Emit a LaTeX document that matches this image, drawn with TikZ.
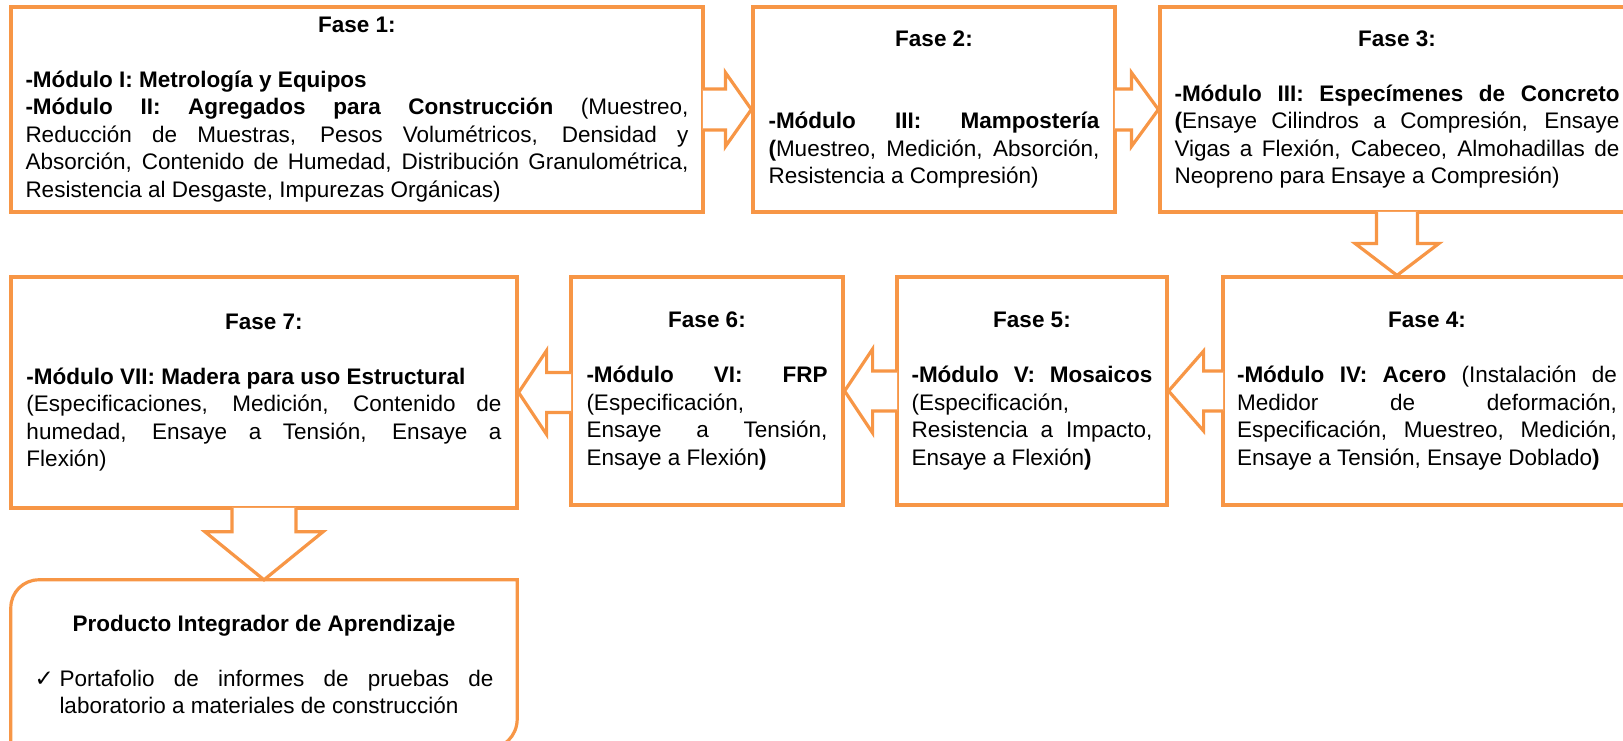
\documentclass[tikz,border=0pt]{standalone}
\usepackage{fontspec}
\setmainfont{Liberation Sans}
\newfontfamily\dejavu{DejaVu Sans}
\usetikzlibrary{calc}
\definecolor{orng}{RGB}{247,150,70}
\tikzset{
  phase/.style={draw=orng, line width=3.2pt, inner sep=0pt, align=left,
    font=\fontsize{22.5pt}{27.5pt}\selectfont, text=black},
  plain/.style={inner sep=0pt, align=left, font=\fontsize{22.5pt}{27.5pt}\selectfont, text=black},
  arrowline/.style={draw=orng, line width=3.2pt, line join=miter},
  outline/.style={draw=orng, line width=3.2pt}
}
\newcommand\JL[2]{\makebox[#1][s]{#2}}
\newcommand\TL[2]{\makebox[#1][c]{\bfseries #2}}
\newcommand\LL[2]{\makebox[#1][l]{#2}}
% right arrow: source, target, shaft half, head half, head length
\newcommand\ArrR[5]{%
  \coordinate (S) at (#1.east |- #2.west);
  \coordinate (T) at (#2.west);
  \fill[white] ($(S)+(-1.8,-#3)$) -- ($(T)+(-#5,-#3)$) -- ($(T)+(-#5,-#4)$) -- (T)
     -- ($(T)+(-#5,#4)$) -- ($(T)+(-#5,#3)$) -- ($(S)+(-1.8,#3)$) -- cycle;
  \draw[arrowline] ($(S)+(-1.6,-#3)$) -- ($(T)+(-#5,-#3)$) -- ($(T)+(-#5,-#4)$) -- (T)
     -- ($(T)+(-#5,#4)$) -- ($(T)+(-#5,#3)$) -- ($(S)+(-1.6,#3)$);
}
\newcommand\ArrL[5]{%
  \coordinate (S) at (#1.west |- #2.east);
  \coordinate (T) at (#2.east);
  \fill[white] ($(S)+(1.8,-#3)$) -- ($(T)+(#5,-#3)$) -- ($(T)+(#5,-#4)$) -- (T)
     -- ($(T)+(#5,#4)$) -- ($(T)+(#5,#3)$) -- ($(S)+(1.8,#3)$) -- cycle;
  \draw[arrowline] ($(S)+(1.6,-#3)$) -- ($(T)+(#5,-#3)$) -- ($(T)+(#5,-#4)$) -- (T)
     -- ($(T)+(#5,#4)$) -- ($(T)+(#5,#3)$) -- ($(S)+(1.6,#3)$);
}
\newcommand\ArrD[5]{%
  \coordinate (S) at (#1.south);
  \coordinate (T) at (#1.south |- #2.north);
  \fill[white] ($(S)+(-#3,-1.8)$) -- ($(T)+(-#3,-#5)$) -- ($(T)+(-#4,-#5)$) -- (T)
     -- ($(T)+(#4,-#5)$) -- ($(T)+(#3,-#5)$) -- ($(S)+(#3,-1.8)$) -- cycle;
  \draw[arrowline] ($(S)+(-#3,-1.6)$) -- ($(T)+(-#3,-#5)$) -- ($(T)+(-#4,-#5)$) -- (T)
     -- ($(T)+(#4,-#5)$) -- ($(T)+(#3,-#5)$) -- ($(S)+(#3,-1.6)$);
}
\begin{document}
\begin{tikzpicture}[x=1pt, y=-1pt]
\useasboundingbox (0,0) rectangle (1623,741);
\clip (0,0) rectangle (1623,741);

\node[phase, minimum width=692pt, minimum height=205pt] (f1) at (357,109.5) {%
\TL{663pt}{Fase 1:}\\[27.5pt]
\LL{663pt}{\bfseries -Módulo I: Metrología y Equipos}\\
\JL{663pt}{\textbf{-Módulo II: Agregados para Construcción} (Muestreo,}\\
\JL{663pt}{Reducción de Muestras, Pesos Volumétricos, Densidad y}\\
\JL{663pt}{Absorción, Contenido de Humedad, Distribución Granulométrica,}\\
\LL{663pt}{Resistencia al Desgaste, Impurezas Orgánicas)}};

\node[phase, minimum width=362pt, minimum height=205pt] (f2) at (934,109.5) {%
\TL{331pt}{Fase 2:}\\[55pt]
\JL{331pt}{\bfseries -Módulo III: Mampostería}\\
\JL{331pt}{\textbf{(}Muestreo, Medición, Absorción,}\\
\LL{331pt}{Resistencia a Compresión)}};

\node[phase, minimum width=474pt, minimum height=205pt] (f3) at (1397,109.5) {%
\TL{445pt}{Fase 3:}\\[27.5pt]
\JL{445pt}{\bfseries -Módulo III: Especímenes de Concreto}\\
\JL{445pt}{\textbf{(}Ensaye Cilindros a Compresión, Ensaye}\\
\JL{445pt}{Vigas a Flexión, Cabeceo, Almohadillas de}\\
\LL{445pt}{Neopreno para Ensaye a Compresión)}};

\node[phase, minimum width=408pt, minimum height=228pt] (f4) at (1427,391) {%
\TL{380pt}{Fase 4:}\\[27.5pt]
\JL{380pt}{\textbf{-Módulo IV: Acero} (Instalación de}\\
\JL{380pt}{Medidor de deformación,}\\
\JL{380pt}{Especificación, Muestreo, Medición,}\\
\LL{380pt}{Ensaye a Tensión, Ensaye Doblado\textbf{)}}};

\node[phase, minimum width=270pt, minimum height=228pt] (f5) at (1032,391) {%
\TL{241pt}{Fase 5:}\\[27.5pt]
\JL{241pt}{\bfseries -Módulo V: Mosaicos}\\
\LL{241pt}{(Especificación,}\\
\JL{241pt}{Resistencia a Impacto,}\\
\LL{241pt}{Ensaye a Flexión\textbf{)}}};

\node[phase, minimum width=272pt, minimum height=228pt] (f6) at (707,391) {%
\TL{241pt}{Fase 6:}\\[27.5pt]
\JL{241pt}{\bfseries -Módulo VI: FRP}\\
\LL{241pt}{(Especificación,}\\
\JL{241pt}{Ensaye a Tensión,}\\
\LL{241pt}{Ensaye a Flexión\textbf{)}}};

\node[phase, minimum width=506pt, minimum height=231pt] (f7) at (264,392.5) {%
\TL{475pt}{Fase 7:}\\[27.5pt]
\LL{475pt}{\bfseries -Módulo VII: Madera para uso Estructural}\\
\JL{475pt}{(Especificaciones, Medición, Contenido de}\\
\JL{475pt}{humedad, Ensaye a Tensión, Ensaye a}\\
\LL{475pt}{Flexión)}};

\node[plain, minimum width=506pt, minimum height=169pt] (prod) at (264,664.5) {%
\TL{459pt}{Producto Integrador de Aprendizaje}\\[27.5pt]
\makebox[25pt][l]{\dejavu\fontsize{23pt}{27.5pt}\selectfont ✓}\JL{434pt}{Portafolio de informes de pruebas de}\\
\hspace*{25pt}\LL{434pt}{laboratorio a materiales de construcción}};
\draw[outline] (prod.north east) -- ($(prod.south east)+(0,-30)$)
  .. controls ($(prod.south east)+(0,-13.5)$) and ($(prod.south east)+(-13.5,0)$) .. ($(prod.south east)+(-30,0)$)
  -- (prod.south west) -- ($(prod.north west)+(0,28)$)
  .. controls ($(prod.north west)+(0,12.5)$) and ($(prod.north west)+(12.5,0)$) .. ($(prod.north west)+(28,0)$)
  -- cycle;

\ArrR{f1}{f2}{20.5}{37}{26}
\ArrR{f2}{f3}{20.5}{37}{27}
\ArrD{f3}{f4}{20.5}{42}{32}
\ArrL{f4}{f5}{20}{40}{35}
\ArrL{f5}{f6}{20}{42}{28}
\ArrL{f6}{f7}{20}{42}{28}
\ArrD{f7}{prod}{32}{59}{48}
\end{tikzpicture}
\end{document}
